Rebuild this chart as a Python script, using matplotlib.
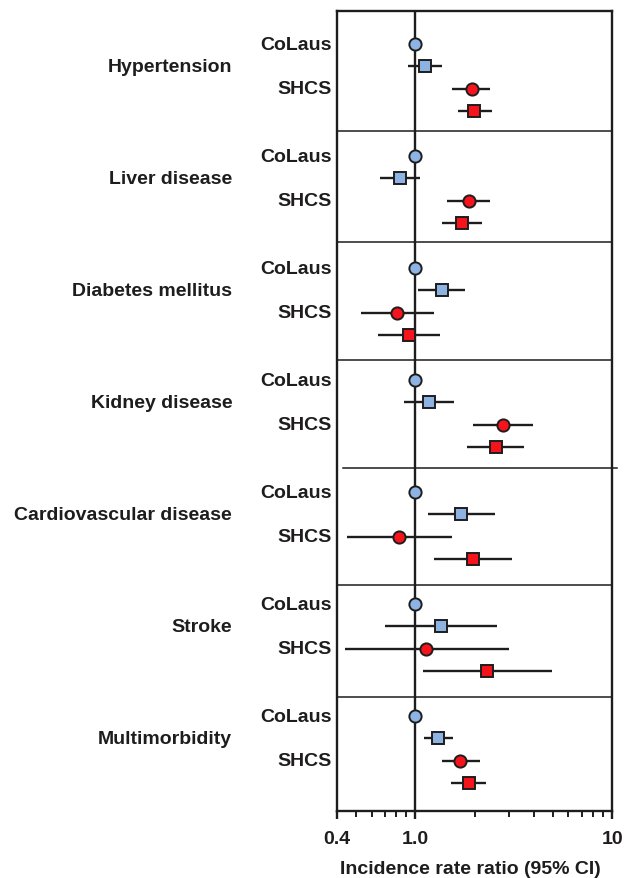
import matplotlib
matplotlib.use("Agg")
import matplotlib.pyplot as plt
from matplotlib.ticker import FixedLocator, NullFormatter
from matplotlib.transforms import blended_transform_factory

plt.rcParams['font.family'] = ['Liberation Sans', 'DejaVu Sans']
plt.rcParams['font.weight'] = 'bold'

# --- data (incidence rate ratios, 95% CI) ---
groups = ['Hypertension', 'Liver disease', 'Diabetes mellitus', 'Kidney disease',
          'Cardiovascular disease', 'Stroke', 'Multimorbidity']

colaus_irr = [1.12, 0.84, 1.37, 1.18, 1.71, 1.35, 1.31]
colaus_lo = [0.92, 0.66, 1.03, 0.88, 1.16, 0.70, 1.11]
colaus_hi = [1.37, 1.06, 1.79, 1.58, 2.53, 2.59, 1.56]

shcs_crude_irr = [1.93, 1.87, 0.81, 2.78, 0.83, 1.14, 1.69]
shcs_crude_lo = [1.54, 1.45, 0.53, 1.97, 0.45, 0.44, 1.37]
shcs_crude_hi = [2.41, 2.41, 1.24, 3.96, 1.54, 2.98, 2.12]

shcs_adj_irr = [1.99, 1.72, 0.93, 2.56, 1.96, 2.32, 1.87]
shcs_adj_lo = [1.64, 1.36, 0.65, 1.84, 1.24, 1.10, 1.52]
shcs_adj_hi = [2.45, 2.19, 1.33, 3.55, 3.11, 4.93, 2.28]

ref_irr = 1.0
xticks = [0.4, 1.0, 10]
xticklabels = ['0.4', '1.0', '10']

# --- styles ---
dark = '#1e1c1d'
blue = '#8db3e2'
red = '#f5141c'
sep_pos = [3.88, 8.84, 14.11, 18.93, 24.15, 29.15]

fig = plt.figure(figsize=(6.24, 8.79), dpi=100)
ax = fig.add_axes([0.540, 0.0762, 0.441, 0.910])
ax.set_xscale('log')
ax.set_xlim(0.4, 10)
ax.set_ylim(34.24, -1.47)

ax.axvline(1.0, color=dark, lw=1.7, zorder=1)

for i, sp in enumerate(sep_pos):
    if i == 3:
        # this separator sticks out past the right frame in the original
        ax.plot([0.022, 1.018], [sp, sp], color=dark, lw=1.1, clip_on=False,
                transform=ax.get_yaxis_transform(), zorder=1)
    else:
        ax.axhline(sp, color=dark, lw=1.1, zorder=1)

ebkw = dict(ecolor=dark, elinewidth=1.7, capsize=0, ls='none',
            mec=dark, mew=1.4, zorder=3)
lbl_tr = blended_transform_factory(fig.transFigure, ax.transData)

for g, name in enumerate(groups):
    base = 5 * g
    ax.plot(ref_irr, base, 'o', ms=8.8, mfc=blue, mec=dark, mew=1.4, zorder=3)
    ax.errorbar(colaus_irr[g], base + 1,
                xerr=[[colaus_irr[g] - colaus_lo[g]], [colaus_hi[g] - colaus_irr[g]]],
                fmt='s', ms=9, mfc=blue, **ebkw)
    ax.errorbar(shcs_crude_irr[g], base + 2,
                xerr=[[shcs_crude_irr[g] - shcs_crude_lo[g]], [shcs_crude_hi[g] - shcs_crude_irr[g]]],
                fmt='o', ms=8.8, mfc=red, **ebkw)
    ax.errorbar(shcs_adj_irr[g], base + 3,
                xerr=[[shcs_adj_irr[g] - shcs_adj_lo[g]], [shcs_adj_hi[g] - shcs_adj_irr[g]]],
                fmt='s', ms=9, mfc=red, **ebkw)

    ax.text(0.532, base, 'CoLaus', transform=lbl_tr, ha='right', va='center',
            fontsize=14, fontweight='bold', color=dark)
    ax.text(0.532, base + 2, 'SHCS', transform=lbl_tr, ha='right', va='center',
            fontsize=14, fontweight='bold', color=dark)
    ax.text(0.372, base + 1, name, transform=lbl_tr, ha='right', va='center',
            fontsize=14, fontweight='bold', color=dark)

# --- axes styling ---
ax.set_yticks([])
ax.xaxis.set_major_locator(FixedLocator(xticks))
ax.set_xticklabels(xticklabels)
ax.xaxis.set_minor_locator(FixedLocator([0.5, 0.6, 0.7, 0.8, 0.9,
                                         2, 3, 4, 5, 6, 7, 8, 9]))
ax.xaxis.set_minor_formatter(NullFormatter())
ax.tick_params(axis='x', which='major', direction='out', length=6, width=1.7,
               color=dark, labelsize=14, labelcolor=dark, pad=8)
ax.tick_params(axis='x', which='minor', direction='out', length=4, width=1.4,
               color=dark)
for lab in ax.get_xticklabels():
    lab.set_fontweight('bold')
for sp in ax.spines.values():
    sp.set_color(dark)
    sp.set_linewidth(1.7)

fig.text(470 / 624, 1 - 870 / 879, 'Incidence rate ratio (95% CI)', ha='center',
         va='center', fontsize=14, fontweight='bold', color=dark)

fig.savefig('out.png', dpi=100)
